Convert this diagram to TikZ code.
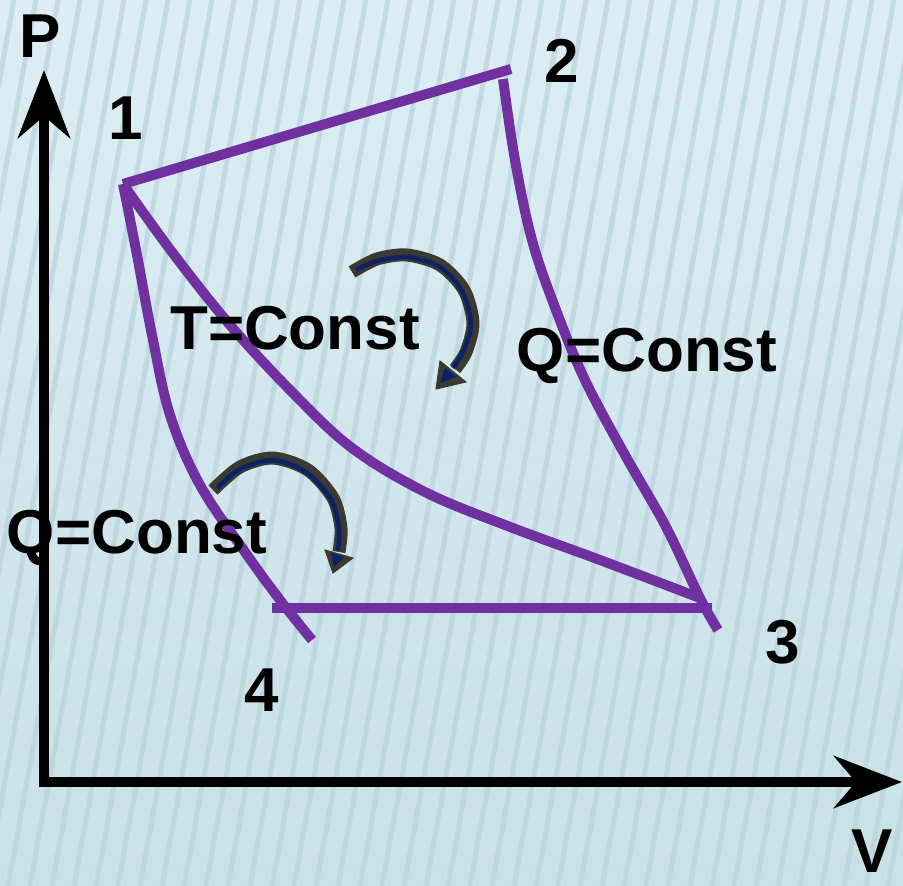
\documentclass[tikz,border=0pt]{standalone}
\usepackage{fontspec}
\setmainfont{Liberation Sans}
\usetikzlibrary{arrows.meta}
\definecolor{purp}{HTML}{7030A0}
\definecolor{bgtop}{HTML}{DCEEF3}
\definecolor{bgbot}{HTML}{C8E0E7}
\definecolor{stripec}{HTML}{B9D3DC}
\definecolor{arrdk}{HTML}{3A3A30}
\definecolor{arrnv}{HTML}{0B2266}
\begin{document}
\begin{tikzpicture}[x=1pt,y=-1pt,
  lbl/.style={font=\fontsize{62}{62}\selectfont\bfseries, inner sep=0pt, text=black},
  cyc/.style={draw=purp, line width=10pt},
  axis/.style={line width=10pt, -{Stealth[length=68pt,width=52pt,inset=22pt]}},
  turnout/.style={draw=arrdk, line width=13pt},
  turnin/.style={draw=arrnv, line width=4.5pt},
  headout/.style={fill=arrdk, draw=arrdk, line width=1pt, line join=miter},
  headin/.style={fill=arrnv},
  stripe/.style={draw=stripec, line width=5pt, opacity=0.7}]
\useasboundingbox (0,0) rectangle (903,886);
\fill[top color=bgtop, bottom color=bgbot] (0,0) rectangle (903,886);
\begin{scope}
\clip (0,0) rectangle (903,886);
\foreach \x in {-300,-278,...,1100} \draw[stripe] (\x,886) -- (\x+160,0);
\end{scope}

% state points
\coordinate (p1) at (123,184);
\coordinate (p2) at (511,69);
\coordinate (p2b) at (503,79);
\coordinate (p3) at (700,598);
\coordinate (p3e) at (718,630);
\coordinate (p4s) at (272,608);
\coordinate (p3h) at (712,608);
\coordinate (p4e) at (312,640);
\coordinate (py) at (44,70);
\coordinate (vx) at (902,782);

% axes
\draw[axis] (44,787) -- (py);
\draw[axis] (39,782) -- (vx);

% cycle
\draw[cyc] (p1) -- (p2);
\draw[cyc] plot[smooth, tension=0.6] coordinates {(p2b) (515,160) (532,240) (556,310) (585,380) (625,455) (665,525) (p3) (p3e)};
\draw[cyc] plot[smooth, tension=0.6] coordinates {(p1) (172,252) (230,325) (292,392) (352,448) (425,492) (505,525) (600,560) (p3)};
\draw[cyc] plot[smooth, tension=0.6] coordinates {(p1) (137,255) (152,335) (170,415) (200,485) (245,552) (280,600) (p4e)};
\draw[cyc] (p4s) -- (p3h);

% turning arrow 1
\coordinate (a1t) at (436,389);
\coordinate (a1l) at (440,361);
\coordinate (a1r) at (466,382);
\draw[turnout] plot[smooth] coordinates {(352,272) (377,259) (407,255) (440,265) (464,290) (473,323) (466,352) (455,369)};
\fill[headout] (a1l) -- (a1t) -- (a1r) -- cycle;
\draw[turnin] plot[smooth] coordinates {(356,270) (377,261) (407,257) (440,267) (462,291) (471,323) (464,350) (453,368)};
\fill[headin] (445,368) -- (440,383) -- (456,377) -- cycle;

% turning arrow 2
\coordinate (a2t) at (333,573);
\coordinate (a2l) at (325,550);
\coordinate (a2r) at (353,558);
\draw[turnout] plot[smooth] coordinates {(213,490) (240,467) (273,458) (308,470) (333,498) (341,528) (339,552)};
\fill[headout] (a2l) -- (a2t) -- (a2r) -- cycle;
\draw[turnin] plot[smooth] coordinates {(217,488) (240,469) (273,460) (306,472) (331,499) (339,528) (338,550)};
\fill[headin] (331,553) -- (334,567) -- (344,557) -- cycle;

% labels
\node[lbl] (lp) at (40,36) {P};
\node[lbl] (l1) at (126,118) {1};
\node[lbl] (l2) at (562,61) {2};
\node[lbl] (l3) at (783,642) {3};
\node[lbl] (l4) at (262,690) {4};
\node[lbl] (lv) at (872,851) {V};
\node[lbl] (lt) at (295,328) {T=Const};
\node[lbl] (lq1) at (647,356) {Q=Const};
\node[lbl] (lq2) at (137,538) {Q=Const};
\end{tikzpicture}
\end{document}
